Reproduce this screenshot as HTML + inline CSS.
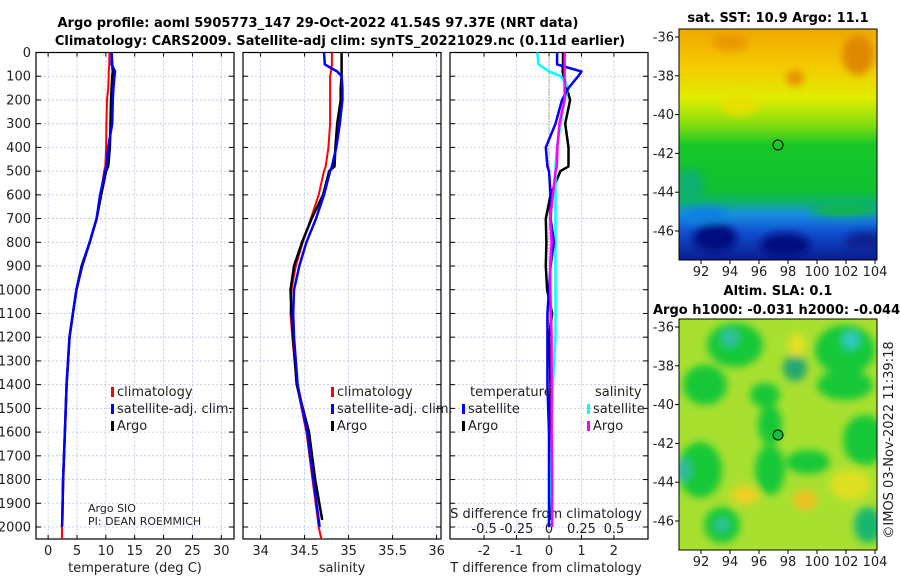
<!DOCTYPE html>
<html><head><meta charset="utf-8"><style>
body{margin:0;background:#fff;width:900px;height:580px;overflow:hidden;font-family:"Liberation Sans","DejaVu Sans",sans-serif}
svg text{font-family:"DejaVu Sans","Liberation Sans",sans-serif}
</style></head><body>
<svg id="c" width="900" height="580">
<text x="318" y="27" text-anchor="middle" font-size="13" font-weight="bold">Argo profile: aoml 5905773_147 29-Oct-2022 41.54S 97.37E (NRT data)</text>
<text x="340" y="45" text-anchor="middle" font-size="13" font-weight="bold">Climatology: CARS2009. Satellite-adj clim: synTS_20221029.nc (0.11d earlier)</text>
<text x="778" y="22" text-anchor="middle" font-size="13" font-weight="bold">sat. SST: 10.9 Argo: 11.1</text>
<text x="778" y="295" text-anchor="middle" font-size="13" font-weight="bold">Altim. SLA: 0.1</text>
<text x="653" y="314" font-size="13" font-weight="bold">Argo h1000: -0.031 h2000: -0.044</text>
<text transform="translate(893,440) rotate(-90)" text-anchor="middle" font-size="13" fill="#222">©IMOS 03-Nov-2022 11:39:18</text>
<defs>
<filter id="bl" x="-50%" y="-50%" width="200%" height="200%"><feGaussianBlur stdDeviation="4"/></filter>
<linearGradient id="sstg" x1="0" y1="0" x2="0" y2="1">
<stop offset="0" stop-color="#f0a800"/><stop offset="0.15" stop-color="#f5c800"/><stop offset="0.3" stop-color="#e0ee00"/><stop offset="0.42" stop-color="#80dc10"/><stop offset="0.5" stop-color="#18c828"/><stop offset="0.7" stop-color="#10c030"/><stop offset="0.75" stop-color="#10b070"/><stop offset="0.8" stop-color="#1890e0"/><stop offset="0.88" stop-color="#1050d0"/><stop offset="1" stop-color="#0a1c90"/>
</linearGradient>
<clipPath id="c1"><rect x="679" y="29" width="198" height="231"/></clipPath>
<clipPath id="c2"><rect x="679" y="319" width="198" height="231"/></clipPath>
</defs>
<g clip-path="url(#c1)">
<rect x="679" y="29" width="198" height="231" fill="url(#sstg)"/>
<g filter="url(#bl)">
<ellipse cx="858" cy="55" rx="16" ry="20" fill="#e08800"/>
<ellipse cx="730" cy="42" rx="18" ry="9" fill="#e89800"/>
<ellipse cx="795" cy="78" rx="9" ry="8" fill="#e89000"/>
<ellipse cx="740" cy="105" rx="20" ry="10" fill="#e8e000"/>
<ellipse cx="690" cy="185" rx="14" ry="16" fill="#10b070"/>
<ellipse cx="715" cy="238" rx="22" ry="14" fill="#061080"/>
<ellipse cx="785" cy="245" rx="25" ry="12" fill="#061080"/>
<ellipse cx="865" cy="242" rx="20" ry="10" fill="#0a2090"/>
<ellipse cx="705" cy="215" rx="22" ry="8" fill="#1080e0"/>
<ellipse cx="845" cy="210" rx="35" ry="6" fill="#10b840"/>
</g></g>
<rect x="679" y="29" width="198" height="231" fill="none" stroke="#000"/>
<circle cx="778" cy="145" r="5" fill="none" stroke="#000"/>
<g clip-path="url(#c2)">
<rect x="679" y="319" width="198" height="231" fill="#a8e030"/>
<g filter="url(#bl)">
<ellipse cx="735" cy="345" rx="28" ry="22" fill="#18c838"/>
<ellipse cx="730" cy="338" rx="9" ry="9" fill="#30c0a0"/>
<ellipse cx="845" cy="350" rx="30" ry="25" fill="#18c838"/>
<ellipse cx="851" cy="340" rx="9" ry="9" fill="#30c8c0"/>
<ellipse cx="795" cy="368" rx="12" ry="13" fill="#20a870"/>
<ellipse cx="705" cy="385" rx="22" ry="20" fill="#18c838"/>
<ellipse cx="765" cy="395" rx="15" ry="12" fill="#18c838"/>
<ellipse cx="845" cy="385" rx="28" ry="15" fill="#18c838"/>
<ellipse cx="865" cy="440" rx="22" ry="25" fill="#18c838"/>
<ellipse cx="700" cy="470" rx="22" ry="28" fill="#18c838"/>
<ellipse cx="683" cy="470" rx="8" ry="12" fill="#30b8a0"/>
<ellipse cx="770" cy="470" rx="15" ry="25" fill="#18c838"/>
<ellipse cx="808" cy="462" rx="22" ry="12" fill="#18c838"/>
<ellipse cx="722" cy="525" rx="18" ry="18" fill="#18c838"/>
<ellipse cx="722" cy="525" rx="7" ry="7" fill="#30c0a0"/>
<ellipse cx="868" cy="525" rx="14" ry="18" fill="#18b870"/>
<ellipse cx="770" cy="425" rx="12" ry="20" fill="#18c838"/>
<ellipse cx="805" cy="500" rx="12" ry="10" fill="#f0c020"/>
<ellipse cx="745" cy="495" rx="14" ry="9" fill="#f0d020"/>
<ellipse cx="850" cy="485" rx="20" ry="15" fill="#e0e020"/>
<ellipse cx="797" cy="345" rx="8" ry="12" fill="#e8e020"/>
</g></g>
<rect x="679" y="319" width="198" height="231" fill="none" stroke="#000"/>
<circle cx="778" cy="435" r="5" fill="#10c040" stroke="#000"/>
<g id="maxes"></g>
<g id="panels"></g>
</svg>
<script>
const depths=[0,50,80,100,150,200,300,400,480,500,600,700,800,900,1000,1100,1200,1400,1600,1800,1970,2000,2050];
const tempClim=[10.6,10.6,10.5,10.5,10.4,10.2,10.1,10.05,9.9,9.7,9.1,8.4,7.2,5.9,4.9,4.3,3.7,3.2,2.9,2.6,2.45,2.4,2.4];
const tempSat=[11.0,11.0,11.6,11.5,11.3,11.2,11.1,10.4,10.1,9.9,9.0,8.4,7.2,5.9,4.9,4.3,3.7,3.2,2.9,2.6,2.45,2.4,null];
const tempArgo=[11.0,11.1,11.2,11.1,11.0,10.9,10.8,10.7,10.4,10.05,9.2,8.4,7.2,5.8,4.9,4.3,3.7,3.2,2.9,2.6,2.45,null,null];
const salClim=[34.81,34.81,34.8,34.79,34.79,34.79,34.79,34.77,34.74,34.72,34.66,34.57,34.48,34.40,34.35,34.34,34.36,34.41,34.52,34.59,34.65,34.66,34.69];
const salSat=[34.72,34.73,34.87,34.92,34.93,34.93,34.9,34.86,34.81,34.79,34.72,34.63,34.52,34.44,34.38,34.37,34.38,34.42,34.53,34.60,34.66,34.67,null];
const salArgo=[34.92,34.92,34.92,34.92,34.91,34.91,34.87,34.85,34.84,34.78,34.71,34.58,34.47,34.38,34.34,34.35,34.37,34.41,34.55,34.62,34.70,null,null];
const dTsat=[0.25,0.25,1.0,0.9,0.6,0.4,0.2,-0.1,-0.05,0,0.05,0.05,0.15,0.05,0,-0.05,-0.05,-0.05,0,0,0,0,null];
const dTargo=[0.43,0.43,0.42,0.45,0.55,0.65,0.5,0.6,0.6,0.35,0.05,-0.1,-0.08,-0.1,-0.06,0.1,0,0.05,0.03,0.03,0.03,null,null];
const dSsat=[-0.09,-0.08,0.0,0.09,0.15,0.12,0.09,0.06,0.05,0.05,0.05,0.05,0.05,0.05,0.05,0.05,0.05,0.03,0.02,0.01,0,0,null];
const dSargo=[0.12,0.12,0.12,0.12,0.12,0.12,0.08,0.065,0.06,0.05,0.03,0.01,0.02,0.01,0.01,0.015,0.02,0.02,0.02,0.025,0.025,0.025,null];
const depthTicks=[0,100,200,300,400,500,600,700,800,900,1000,1100,1200,1300,1400,1500,1600,1700,1800,1900,2000];
const tempTicks=[0,5,10,15,20,25,30];
const salTicks=[34,34.5,35,35.5,36];
const salTickLabels=['34','34.5','35','35.5','36'];
const dTTicks=[-2,-1,0,1,2];
const dSTicks=[-0.5,-0.25,0,0.25,0.5];

const NS='http://www.w3.org/2000/svg';
const root=document.getElementById('panels');
function mk(tag,attrs,parent){const e=document.createElementNS(NS,tag);for(const k in attrs)e.setAttribute(k,attrs[k]);(parent||root).appendChild(e);return e;}
const yTop=52.5,yBot=539;
function yS(d){return yTop+d*(527-52.5)/2000;}
function panel(x0,x1,dmin,dmax,name){
  const xS=v=>x0+(v-dmin)/(dmax-dmin)*(x1-x0);
  return {x0,x1,xS,name};
}
const P1=panel(36,234,-2.1,32.2,'temperature');
const P2=panel(243,441,33.8,36.05,'salinity');
const P3=panel(450,648,-3.05,3.05,'difference');
const dS=v=>v*4;
function frame(P,ticks,fn){
  const g=mk('g',{});
  
  
  ticks.forEach(t=>{const x=fn(t);const l=mk('line',{x1:x,x2:x,y1:yTop,y2:yBot,stroke:'#b8c4e8','stroke-dasharray':'2,2','stroke-width':0.8},g);
    
    const t1=mk('line',{x1:x,x2:x,y1:yBot,y2:yBot-4,stroke:'#000'},g);
    const t2=mk('line',{x1:x,x2:x,y1:yTop,y2:yTop+4,stroke:'#000'},g);});
  depthTicks.forEach(d=>{const y=yS(d);const l=mk('line',{x1:P.x0,x2:P.x1,y1:y,y2:y,stroke:'#b8c4e8','stroke-dasharray':'2,2','stroke-width':0.8},g);
    
    const a=mk('line',{x1:P.x0,x2:P.x0+5,y1:y,y2:y,stroke:'#000'},g);
    const b=mk('line',{x1:P.x1,x2:P.x1-5,y1:y,y2:y,stroke:'#000'},g);});
  const r=mk('rect',{x:P.x0,y:yTop,width:P.x1-P.x0,height:yBot-yTop,fill:'none',stroke:'#000','stroke-width':1.2},g);
  
  return g;
}
frame(P1,tempTicks,P1.xS);frame(P2,salTicks,P2.xS);frame(P3,dTTicks,P3.xS);
depthTicks.forEach(d=>{const t=mk('text',{x:31,y:yS(d)+4.5,'text-anchor':'end','font-size':13,fill:'#222'});t.textContent=d;
  });
function xLabels(ticks,labels,fn,y){ticks.forEach((v,i)=>{const t=mk('text',{x:fn(v),y:y,'text-anchor':'middle','font-size':13,fill:'#222'});t.textContent=labels[i];
  });}
xLabels(tempTicks,tempTicks.map(String),P1.xS,555);
xLabels(salTicks,salTickLabels,P2.xS,555);
xLabels(dTTicks,dTTicks.map(String),P3.xS,555);
xLabels(dSTicks,['-0.5','-0.25','0','0.25','0.5'],v=>P3.xS(dS(v)),533);
function lbl(x,y,s,name,anchor){const t=mk('text',{x,y,'text-anchor':anchor||'middle','font-size':13,fill:'#222'});t.textContent=s;return t;}
lbl(135,572,'temperature (deg C)','temperature-axis-title');
lbl(342,572,'salinity','salinity-axis-title');
lbl(546,572,'T difference from climatology','t-diff-axis-title');
lbl(546,518,'S difference from climatology','s-diff-axis-title');
const z=mk('line',{x1:P3.xS(0),x2:P3.xS(0),y1:yTop,y2:yBot,stroke:'#555','stroke-dasharray':'1,2'});

function series(vals,xf,color,w,name){
  let d='',pen=false;
  vals.forEach((v,i)=>{if(v===null){pen=false;return;}d+=(pen?'L':'M')+xf(v).toFixed(1)+','+yS(depths[i]).toFixed(1);pen=true;});
  const p=mk('path',{d,fill:'none',stroke:color,'stroke-width':w,'stroke-linejoin':'round'});
  
}
series(tempClim,P1.xS,'#f00',2,'temp-climatology-line');
series(tempArgo,P1.xS,'#000',2.5,'temp-argo-line');
series(tempSat,P1.xS,'#00f',2.5,'temp-satellite-line');
series(salClim,P2.xS,'#f00',2,'sal-climatology-line');
series(salArgo,P2.xS,'#000',2.5,'sal-argo-line');
series(salSat,P2.xS,'#00f',2.5,'sal-satellite-line');
series(dTargo,P3.xS,'#000',2.5,'tdiff-argo-line');
series(dSsat,v=>P3.xS(dS(v)),'#0ff',2.5,'sdiff-satellite-line');
series(dTsat,P3.xS,'#00f',2.5,'tdiff-satellite-line');
series(dSargo,v=>P3.xS(dS(v)),'#f0f',2.5,'sdiff-argo-line');
function leg(x,y,color,s,name){const r=mk('rect',{x:x,y:y-9,width:3,height:10,fill:color});
  lbl(x+6,y,s,name,'start');}
leg(111,396,'#f00','climatology','legend-climatology');
leg(111,413,'#00f','satellite-adj. clim.','legend-satellite-adj');
leg(111,430,'#000','Argo','legend-argo');
leg(331,396,'#f00','climatology','legend2-climatology');
leg(331,413,'#00f','satellite-adj. clim.','legend2-satellite-adj');
leg(331,430,'#000','Argo','legend2-argo');
lbl(470,396,'temperature','legend-temperature-header','start');
leg(462,413,'#00f','satellite','legend-t-satellite');
leg(462,430,'#000','Argo','legend-t-argo');
lbl(595,396,'salinity','legend-salinity-header','start');
leg(587,413,'#0ff','satellite','legend-s-satellite');
leg(587,430,'#f0f','Argo','legend-s-argo');
const a1=lbl(88,512,'Argo SIO','argo-sio-note','start');a1.setAttribute('font-size','11');
const a2=lbl(88,525,'PI: DEAN ROEMMICH','pi-note','start');a2.setAttribute('font-size','11');
const lonTicks=[92,94,96,98,100,102,104];
const latTicks=[-36,-38,-40,-42,-44,-46];
const mg=document.getElementById('maxes');
function mapAxes(yt,yb,lat0y){
  lonTicks.forEach(l=>{const x=701+(l-92)*14.5;const t=mk('text',{x,y:yb+16,'text-anchor':'middle','font-size':13,fill:'#222'},mg);t.textContent=l;
    
    const k=mk('line',{x1:x,x2:x,y1:yb,y2:yb+4,stroke:'#000'},mg);});
  latTicks.forEach(l=>{const y=lat0y+(-36-l)*19.4;const t=mk('text',{x:674,y:y+4.5,'text-anchor':'end','font-size':13,fill:'#222'},mg);t.textContent=l;
    
    const k=mk('line',{x1:675,x2:679,y1:y,y2:y,stroke:'#000'},mg);});
}
mapAxes(29,260,37);mapAxes(319,550,327);
</script>
</body></html>
